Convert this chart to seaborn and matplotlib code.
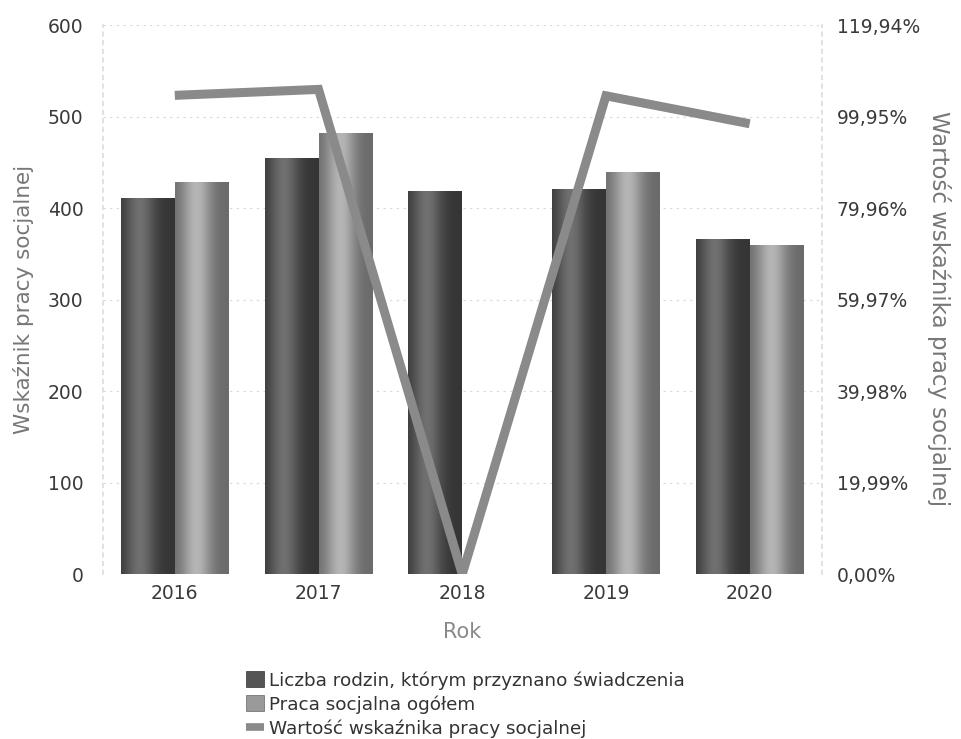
import numpy as np
import pandas as pd
import matplotlib
matplotlib.use("Agg")
import matplotlib.pyplot as plt
import seaborn as sns
from matplotlib.patches import Patch
from matplotlib.lines import Line2D

years = ["2016", "2017", "2018", "2019", "2020"]
rodziny = [411, 455, 419, 421, 366]
praca = [429, 482, 0, 439, 360]
wskaznik = [104.6, 105.9, 0.0, 104.5, 98.4]
right_ticks = [0.00, 19.99, 39.98, 59.97, 79.96, 99.95, 119.94]

s1 = "Liczba rodzin, którym przyznano świadczenia"
s2 = "Praca socjalna ogółem"
s3 = "Wartość wskaźnika pracy socjalnej"

df = pd.DataFrame({
    "Rok": years * 2,
    "val": rodziny + praca,
    "seria": [s1] * 5 + [s2] * 5,
})

sns.set_theme(style="white")
plt.rcParams["font.family"] = ["DejaVu Sans"]

fig = plt.figure(figsize=(9.62, 7.39), dpi=100)
ax = fig.add_axes([0.107, 0.223, 0.747, 0.743])

dark = "#555555"
light = "#9a9a9a"
sns.barplot(data=df, x="Rok", y="val", hue="seria", palette=[dark, light],
            width=0.75, ax=ax, legend=False, saturation=1, linewidth=0)

ax.set_ylim(0, 600)
ax.set_xlim(-0.5, 4.5)

# cylinder-like gradient on bars
def grad(c_edge, c_mid, pos):
    xs = np.linspace(0, 1, 64)
    prof = np.exp(-((xs - pos) / 0.28) ** 2)
    ce = np.array(matplotlib.colors.to_rgb(c_edge))
    cm = np.array(matplotlib.colors.to_rgb(c_mid))
    img = ce[None, :] * (1 - prof[:, None]) + cm[None, :] * prof[:, None]
    return img[None, :, :]

g_dark = grad("#353535", "#707070", 0.35)
g_light = grad("#6a6a6a", "#b5b5b5", 0.4)
patches = list(ax.patches)
for i, p in enumerate(patches):
    h = p.get_height()
    if h <= 0:
        continue
    x0 = p.get_x(); w = p.get_width()
    img = g_dark if i < 5 else g_light
    im = ax.imshow(img, extent=[x0, x0 + w, 0, h], aspect="auto",
                   interpolation="bilinear", zorder=p.get_zorder() + 0.1)
    im.set_clip_path(p)
ax.set_xlim(-0.5, 4.5)
ax.set_ylim(0, 600)

ax.set_yticks([0, 100, 200, 300, 400, 500, 600])
ax.yaxis.grid(True, linestyle=(0, (2, 4)), color="#d8d8d8", linewidth=0.8)
ax.set_axisbelow(True)
for sp in ["top", "bottom", "right"]:
    ax.spines[sp].set_visible(False)
ax.spines["left"].set_linestyle((0, (2, 3)))
ax.spines["left"].set_color("#dddddd")
ax.tick_params(axis="x", length=0, labelsize=13.5, labelcolor="#3a3a3a", pad=7)
ax.tick_params(axis="y", length=0, labelsize=13.5, labelcolor="#3a3a3a", pad=14)
ax.set_xlabel("Rok", fontsize=15, color="#8a8a8a", labelpad=14)
ax.set_ylabel("Wskaźnik pracy socjalnej", fontsize=15.5, color="#777777", labelpad=10)

ax2 = ax.twinx()
ax2.plot(range(len(years)), wskaznik, color="#8a8a8a", linewidth=6.5,
         solid_capstyle="butt", solid_joinstyle="miter", zorder=5)
ax2.set_ylim(0, 119.94)
ax2.set_yticks(right_ticks)
ax2.set_yticklabels([f"{v:.2f}%".replace(".", ",") for v in right_ticks])
for sp in ["top", "bottom", "left"]:
    ax2.spines[sp].set_visible(False)
ax2.spines["right"].set_linestyle((0, (2, 3)))
ax2.spines["right"].set_color("#dddddd")
ax2.tick_params(axis="y", length=0, labelsize=13.5, labelcolor="#3a3a3a", pad=11)
ax2.set_ylabel(s3, fontsize=16.5, color="#777777", rotation=270, labelpad=22)
ax2.yaxis.set_label_coords(1.18, 0.483)
ax2.grid(False)

handles = [
    Patch(facecolor=dark, edgecolor="#333333", linewidth=0.5),
    Patch(facecolor=light, edgecolor="#666666", linewidth=0.5),
    Line2D([0], [0], color="#8a8a8a", linewidth=5.5, solid_capstyle="butt"),
]
fig.legend(handles, [s1, s2, s3], loc="upper left",
           bbox_to_anchor=(0.246, 1 - 662 / 739), frameon=False,
           fontsize=13.2, handlelength=1.0, handleheight=0.95,
           handletextpad=0.25, labelspacing=0.3, borderpad=0,
           labelcolor="#333333")

fig.savefig("out.png", dpi=100)
